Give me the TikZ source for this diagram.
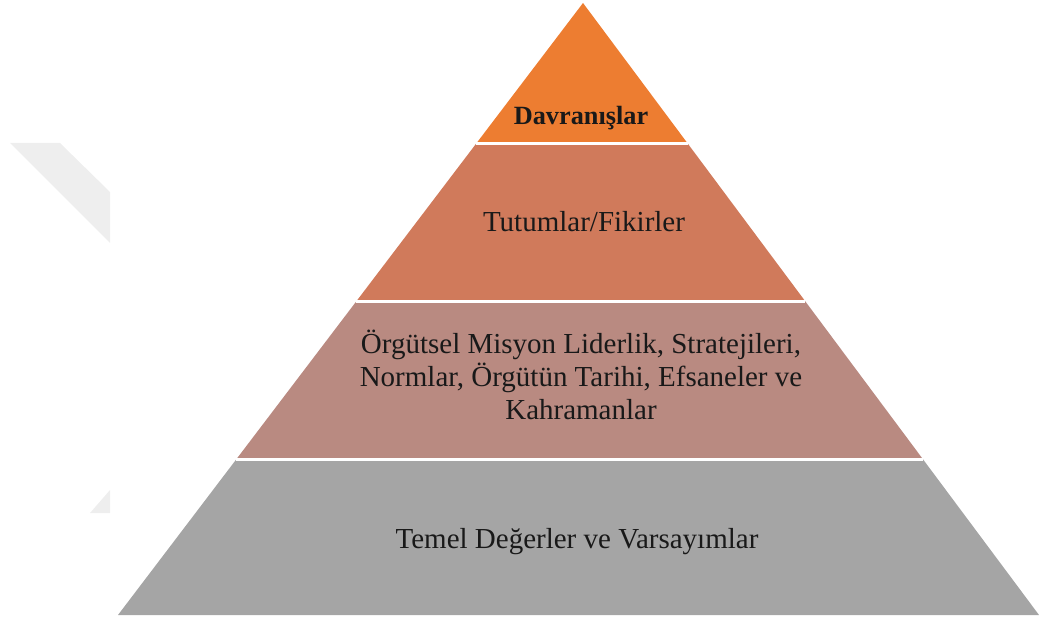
\documentclass[tikz,border=0pt]{standalone}
\usepackage{fontspec}
\setmainfont{Liberation Serif}
\usetikzlibrary{calc}
\definecolor{topc}{HTML}{ED7D31}
\definecolor{secc}{HTML}{D07A5B}
\definecolor{thrc}{HTML}{B98A81}
\definecolor{botc}{HTML}{A5A5A5}
\definecolor{markc}{HTML}{EEEEEE}
\tikzset{
  lbl/.style={font=\fontsize{29}{33.5}\selectfont, align=center, text=black!90, anchor=base, inner sep=0pt},
  boldlbl/.style={lbl, font=\fontsize{26.3}{30}\selectfont\bfseries},
  gap/.style={draw=white, line width=3pt}
}
\begin{document}
\begin{tikzpicture}[x=1pt,y=1pt]
\useasboundingbox (0,0) rectangle (1039,619);
% faint background marks
\fill[markc] (10,476) -- (60,476) -- (110,427) -- (110,376) -- cycle;
\fill[markc] (90,106) -- (110,106) -- (110,129) -- cycle;
% pyramid corners
\coordinate (A) at (583,616);
\coordinate (L) at (118,4);
\coordinate (R) at (1039,4);
% layer boundaries along the sides
\coordinate (L1) at ($(A)!0.2296!(L)$);
\coordinate (R1) at ($(A)!0.2296!(R)$);
\coordinate (L2) at ($(A)!0.4877!(L)$);
\coordinate (R2) at ($(A)!0.4877!(R)$);
\coordinate (L3) at ($(A)!0.7459!(L)$);
\coordinate (R3) at ($(A)!0.7459!(R)$);
% bands
\fill[topc] (A) -- (L1) -- (R1) -- cycle;
\fill[secc] (L1) -- (L2) -- (R2) -- (R1) -- cycle;
\fill[thrc] (L2) -- (L3) -- (R3) -- (R2) -- cycle;
\fill[botc] (L3) -- (L) -- (R) -- (R3) -- cycle;
% white separators
\draw[gap] (L1) -- (R1);
\draw[gap] (L2) -- (R2);
\draw[gap] (L3) -- (R3);
% labels (base anchor = baseline of the last line)
\node[boldlbl] (t1) at (581,494) {Davranışlar};
\node[lbl] (t2) at (584,387) {Tutumlar/Fikirler};
\node[lbl] (t3) at (581,199) {Örgütsel Misyon Liderlik, Stratejileri,\\Normlar, Örgütün Tarihi, Efsaneler ve\\Kahramanlar};
\node[lbl] (t4) at (577,71) {Temel Değerler ve Varsayımlar};
\end{tikzpicture}
\end{document}
